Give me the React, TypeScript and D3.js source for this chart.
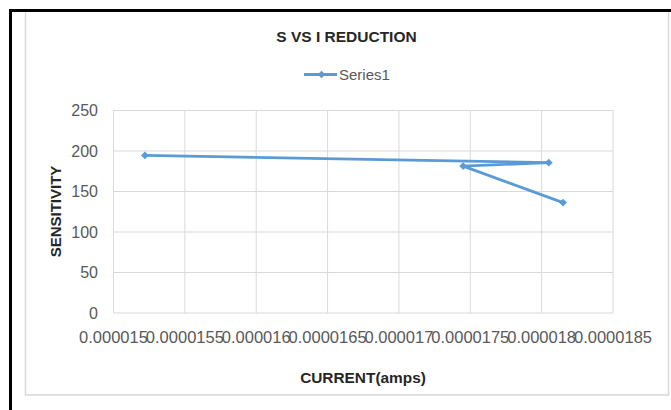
import * as d3 from "d3";

// values
const current = [0.00001522, 0.00001805, 0.00001745, 0.00001815];
const sensitivity = [194.5, 185.6, 181.4, 136.3];
const xTicks = [0.000015, 0.0000155, 0.000016, 0.0000165, 0.000017, 0.0000175, 0.000018, 0.0000185];
const xTickLabels = ["0.000015", "0.0000155", "0.000016", "0.0000165", "0.000017", "0.0000175", "0.000018", "0.0000185"];
const yTicks = [0, 50, 100, 150, 200, 250];
const seriesName = "Series1";

const W = 671;
const H = 410;
const font = "'Liberation Sans', Arial, sans-serif";
const blue = "#5B9BD5";

const App = () => {
  const x = d3.scaleLinear().domain([0.000015, 0.0000185]).range([113.5, 613]);
  const y = d3.scaleLinear().domain([0, 250]).range([313, 110.5]);

  const pts = current.map((c, i) => ({ c, s: sensitivity[i] }));
  const line = d3.line<{ c: number; s: number }>()
    .x(d => x(d.c))
    .y(d => y(d.s));
  const marker = d3.symbol().type(d3.symbolSquare).size(30)() || "";

  return (
    <svg width={W} height={H} style={{ position: "absolute", left: 0, top: 0, background: "#fff" }}
      fontFamily={font}>
      <rect x={25.5} y={11} width={643} height={384} fill="#fff" stroke="#d9d9d9" strokeWidth={1.5} />
      <path d={`M10.5,${H} V10.5 H${W}`} fill="none" stroke="#000" strokeWidth={3} />

      {/* grid */}
      <g stroke="#d9d9d9" strokeWidth={1}>
        {yTicks.map(t => (
          <line key={"h" + t} x1={x.range()[0]} x2={x.range()[1]} y1={y(t)} y2={y(t)} />
        ))}
        {xTicks.map(t => (
          <line key={"v" + t} x1={x(t)} x2={x(t)} y1={y(0)} y2={y(250)} />
        ))}
      </g>

      {/* tick labels */}
      <g fill="#595959">
        {yTicks.map(t => (
          <text key={"yl" + t} x={98} y={y(t)} dy="0.36em" textAnchor="end" fontSize={16}>{t}</text>
        ))}
        {xTicks.map((t, i) => (
          <text key={"xl" + t} x={x(t)} y={343} textAnchor="middle" fontSize={16.5}>{xTickLabels[i]}</text>
        ))}
      </g>

      {/* series */}
      <path d={line(pts) || ""} fill="none" stroke={blue} strokeWidth={2.8} strokeLinejoin="round" strokeLinecap="round" />
      {pts.map((d, i) => (
        <path key={i} d={marker} fill={blue}
          transform={`translate(${x(d.c)},${y(d.s)}) rotate(45)`} />
      ))}

      {/* titles */}
      <text x={346.5} y={42} textAnchor="middle" fontWeight="bold" fontSize={15.5} fill="#262626">S VS I REDUCTION</text>
      <text x={363} y={383} textAnchor="middle" fontWeight="bold" fontSize={15.4} fill="#262626">CURRENT(amps)</text>
      <text transform="translate(61,211.5) rotate(-90)" textAnchor="middle" fontWeight="bold" fontSize={15} fill="#262626">SENSITIVITY</text>

      {/* legend */}
      <line x1={304} x2={337} y1={74.5} y2={74.5} stroke={blue} strokeWidth={2.8} />
      <path d={marker} fill={blue} transform="translate(321.5,74.5) rotate(45)" />
      <text x={339} y={80} fontSize={15} fill="#595959">{seriesName}</text>
    </svg>
  );
};

export default App;
